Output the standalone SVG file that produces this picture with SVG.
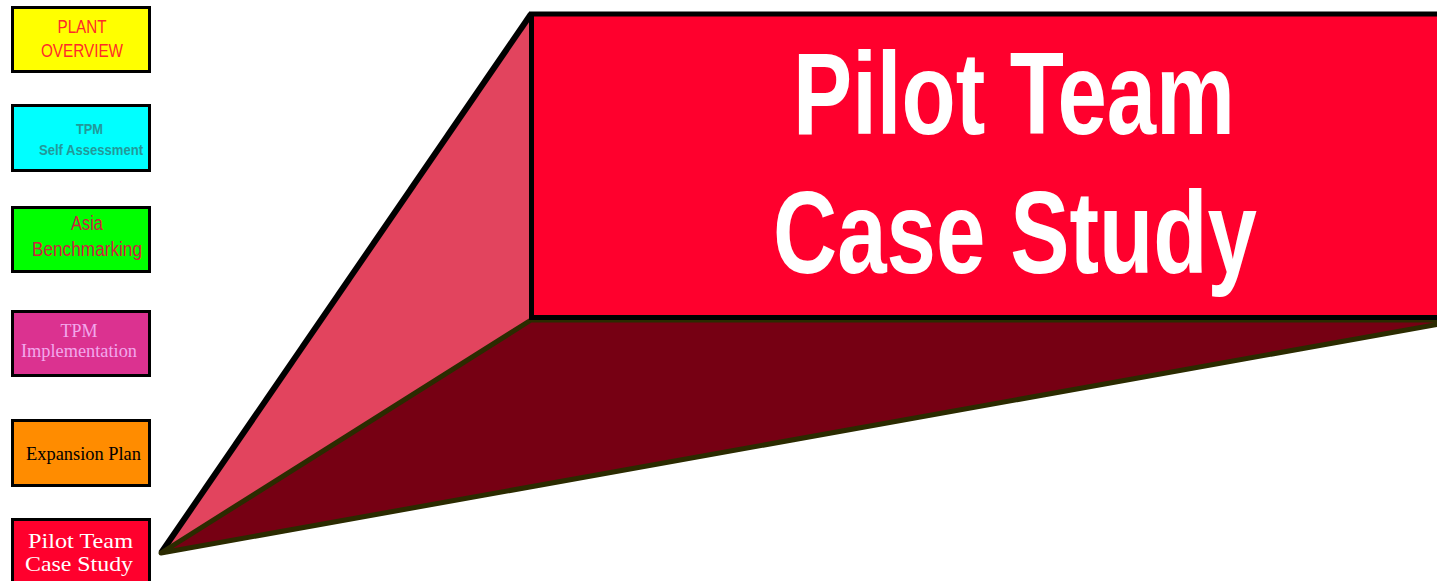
<svg xmlns="http://www.w3.org/2000/svg" width="1437" height="581" viewBox="0 0 1437 581">
<style>
.box{stroke:#000;stroke-width:3}
.sans{font-family:"Liberation Sans",Arial,sans-serif;text-anchor:middle}
.serif{font-family:"Liberation Serif","Times New Roman",serif;text-anchor:middle}
</style>
<rect width="1437" height="581" fill="#fff"/>
<g id="plant-overview">
<rect class="box" x="12.5" y="7.5" width="137" height="64" fill="#FFFF00"/>
<text class="sans" x="82" y="33" font-size="19" fill="#FF2A2A" textLength="49" lengthAdjust="spacingAndGlyphs">PLANT</text>
<text class="sans" x="82" y="57" font-size="19" fill="#FF2A2A" textLength="82" lengthAdjust="spacingAndGlyphs">OVERVIEW</text>
</g>
<g id="tpm-self-assessment">
<rect class="box" x="12.5" y="105.5" width="137" height="65" fill="#00FFFF"/>
<text class="sans" x="89.5" y="134" font-size="15" font-weight="bold" fill="#229999" textLength="27" lengthAdjust="spacingAndGlyphs">TPM</text>
<text class="sans" x="91" y="155" font-size="15" font-weight="bold" fill="#229999" textLength="104" lengthAdjust="spacingAndGlyphs">Self Assessment</text>
</g>
<g id="asia-benchmarking">
<rect class="box" x="12.5" y="207.5" width="137" height="64" fill="#00FF00"/>
<text class="sans" x="87" y="230" font-size="20" fill="#D02040" textLength="32" lengthAdjust="spacingAndGlyphs">Asia</text>
<text class="sans" x="87" y="256" font-size="20" fill="#D02040" textLength="110" lengthAdjust="spacingAndGlyphs">Benchmarking</text>
</g>
<g id="tpm-implementation">
<rect class="box" x="12.5" y="311.5" width="137" height="64" fill="#DB3290"/>
<text class="serif" x="79" y="337" font-size="18" fill="#F2A8EC" textLength="37" lengthAdjust="spacingAndGlyphs">TPM</text>
<text class="serif" x="79" y="357" font-size="18" fill="#F2A8EC" textLength="116" lengthAdjust="spacingAndGlyphs">Implementation</text>
</g>
<g id="expansion-plan">
<rect class="box" x="12.5" y="420.5" width="137" height="65" fill="#FF8C00"/>
<text class="serif" x="83.5" y="460" font-size="18" fill="#000" textLength="115" lengthAdjust="spacingAndGlyphs">Expansion Plan</text>
</g>
<g id="pilot-team-case-study">
<rect class="box" x="12.5" y="519.5" width="137" height="70" fill="#FF002D"/>
<text class="serif" x="80.5" y="548" font-size="22" fill="#fff" textLength="105" lengthAdjust="spacingAndGlyphs">Pilot Team</text>
<text class="serif" x="79" y="571" font-size="22" fill="#fff" textLength="108" lengthAdjust="spacingAndGlyphs">Case Study</text>
</g>
<g id="callout">
<polygon points="161,553 531,14 531,320" fill="#E2445E"/>
<line x1="161" y1="553" x2="531" y2="14" stroke="#000" stroke-width="6"/>
<polygon points="161,553 531,320 1445,320 1445,323" fill="#760013" stroke="#2B2B00" stroke-width="5" stroke-linejoin="round"/>
<rect x="531.5" y="14" width="920" height="303.5" fill="#FF002D" stroke="#000" stroke-width="5"/>
<text x="1014" y="134" font-family="'Liberation Sans',Arial,sans-serif" font-size="116" font-weight="bold" fill="#fff" text-anchor="middle" textLength="442" lengthAdjust="spacingAndGlyphs">Pilot Team</text>
<text x="1015" y="273" font-family="'Liberation Sans',Arial,sans-serif" font-size="116" font-weight="bold" fill="#fff" text-anchor="middle" textLength="484" lengthAdjust="spacingAndGlyphs">Case Study</text>
</g>
</svg>
